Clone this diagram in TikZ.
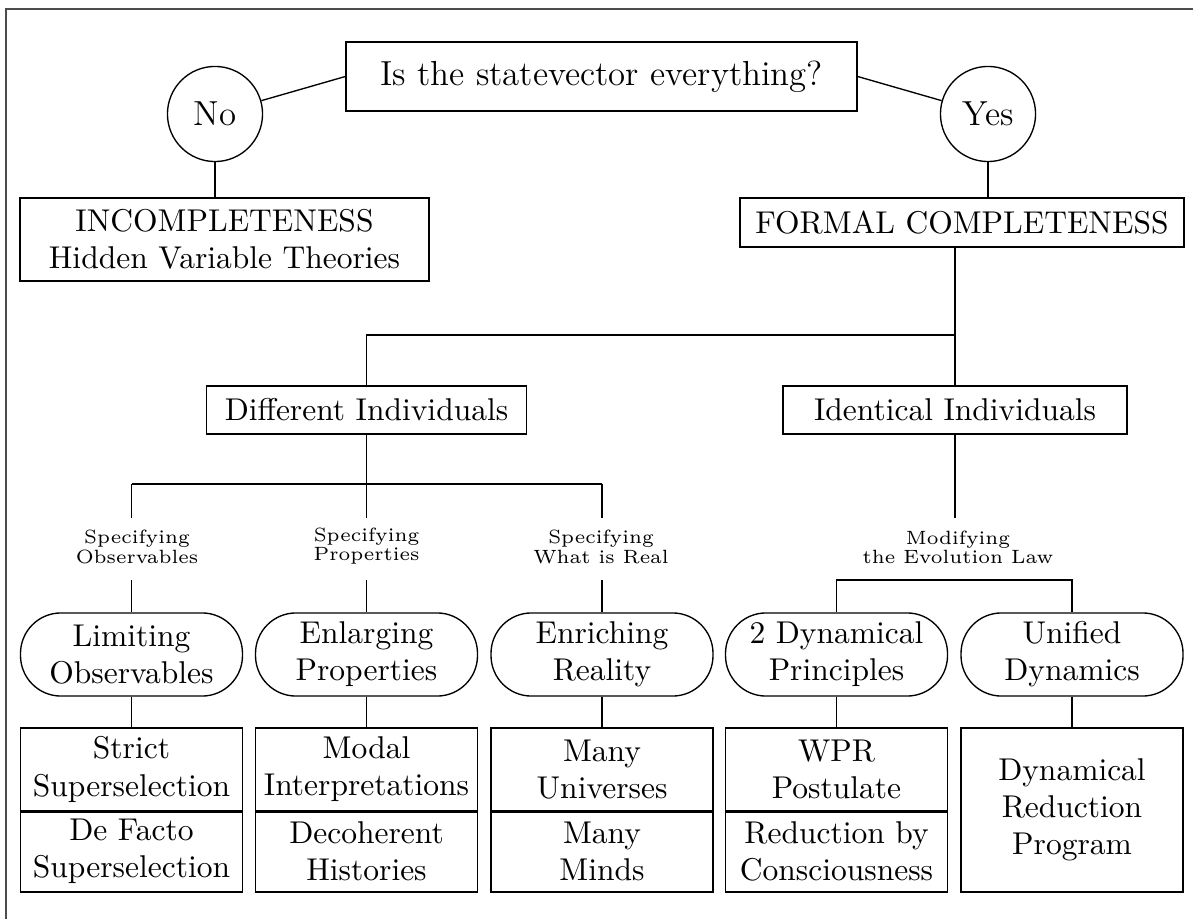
\documentclass[tikz,border=0pt]{standalone}
\begin{document}
\begin{tikzpicture}[x=0.333333pt,y=-0.333333pt, line width=0.45pt,
  box/.style={draw, inner sep=0pt, align=center, font=\fontsize{10.5}{12.4}\selectfont},
  bigbox/.style={box, font=\fontsize{11.6}{14}\selectfont},
  oval/.style={box, rounded corners=13.5pt, minimum width=74pt, minimum height=27.7pt},
  leaf/.style={box, minimum width=74pt},
  lbl/.style={inner sep=0pt, align=center, font=\fontsize{6.4}{6.4}\selectfont},
  ans/.style={draw, circle, inner sep=0pt, minimum size=31.7pt, font=\fontsize{11.6}{14}\selectfont},
  divider/.style={line width=1pt},
  frameline/.style={line width=0.5pt, black!70}]
\useasboundingbox (0,0) rectangle (1193,919);
% frame (only top and left visible)
\coordinate (fa) at (6,919);
\coordinate (fb) at (6,9);
\coordinate (fc) at (1193,9);
\draw[frameline] (fa) -- (fb) -- (fc);

% top level
\node[bigbox, minimum width=170.3pt, minimum height=23pt] (q) at (601.5,76.5) {Is the statevector everything?};
\node[ans] (no) at (215,114) {No};
\node[ans] (yes) at (988,114) {Yes};
\node[box, minimum width=136.3pt, minimum height=27.7pt] (inc) at (224.5,239.5) {INCOMPLETENESS\\Hidden Variable Theories};
\node[box, minimum width=148pt, minimum height=16.3pt] (formal) at (962,222.5) {FORMAL COMPLETENESS};
\node[box, minimum width=106.7pt, minimum height=16pt] (diff) at (366.5,410) {Different Individuals};
\node[box, minimum width=114.7pt, minimum height=16pt] (ident) at (955,410) {Identical Individuals};

\draw (no) -- (q.west);
\draw (yes) -- (q.east);
\draw (no.south) -- (no.south |- inc.north);
\draw (yes.south) -- (yes.south |- formal.north);

\coordinate (j1) at (955,335);
\draw (ident.north) -- (ident.north |- formal.south);
\draw (diff.north) |- (j1);

% labels
\node[lbl] (l1) at (137,547) {Specifying\\Observables};
\node[lbl] (l2) at (366.5,546) {Specifying\\Properties};
\node[lbl] (l3) at (601,547) {Specifying\\What is Real};
\node[lbl] (l4) at (958,547) {Modifying\\the Evolution Law};

\coordinate (bl) at (131.5,484);
\coordinate (br) at (602,484);
\coordinate (s1) at (131.5,518);
\coordinate (s2) at (366.5,518);
\coordinate (s3) at (602,518);
\coordinate (s4) at (955,518);
\coordinate (u1) at (131.5,580);
\coordinate (u2) at (366.5,580);
\coordinate (u3) at (602,580);
\coordinate (mr) at (1072,580);

\draw (bl) -- (br);
\draw (bl) -- (s1);
\draw (diff.south) -- (s2);
\draw (br) -- (s3);
\draw (ident.south) -- (s4);

% rounded boxes
\node[oval] (r1) at (131.5,654.5) {Limiting\\Observables};
\node[oval] (r2) at (366.5,654.5) {Enlarging\\Properties};
\node[oval] (r3) at (602,654.5) {Enriching\\Reality};
\node[oval] (r4) at (836.5,654.5) {2 Dynamical\\Principles};
\node[oval] (r5) at (1072,654.5) {Unified\\Dynamics};

\draw (u1) -- (r1.north);
\draw (u2) -- (r2.north);
\draw (u3) -- (r3.north);
\draw (r4.north) |- (mr) -- (r5.north);

% bottom boxes
\node[leaf, minimum height=27.7pt] (t1) at (131.5,769.5) {Strict\\Superselection};
\node[leaf, minimum height=27.7pt] (t2) at (366.5,769.5) {Modal\\Interpretations};
\node[leaf, minimum height=27.7pt] (t3) at (602,769.5) {Many\\Universes};
\node[leaf, minimum height=27.7pt] (t4) at (836.5,769.5) {WPR\\Postulate};
\node[leaf, minimum height=27pt] (d1) at (131.5,851.5) {De Facto\\Superselection};
\node[leaf, minimum height=27pt] (d2) at (366.5,851.5) {Decoherent\\Histories};
\node[leaf, minimum height=27pt] (d3) at (602,851.5) {Many\\Minds};
\node[leaf, minimum height=27pt] (d4) at (836.5,851.5) {Reduction by\\Consciousness};
\node[leaf, minimum height=54.7pt] (t5) at (1072,810) {Dynamical\\Reduction\\Program};

\foreach \n in {1,2,3,4} {
  \draw[divider] (t\n.south west) -- (t\n.south east);
}

\draw (r1.south) -- (t1.north);
\draw (r2.south) -- (t2.north);
\draw (r3.south) -- (t3.north);
\draw (r4.south) -- (t4.north);
\draw (r5.south) -- (t5.north);
\end{tikzpicture}
\end{document}
